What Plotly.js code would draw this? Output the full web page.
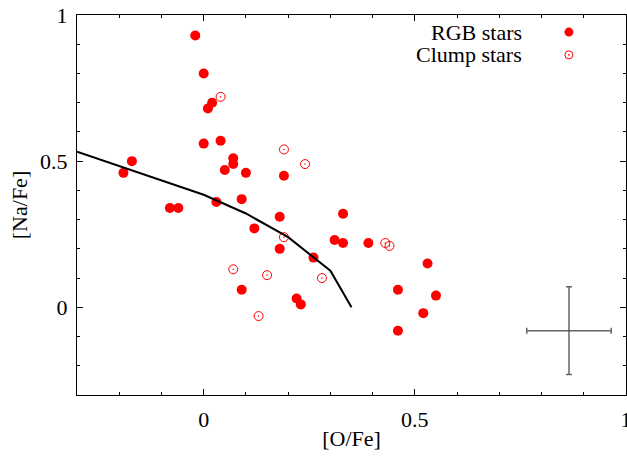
<!DOCTYPE html>
<html>
<head>
<meta charset="utf-8">
<script src="https://cdn.plot.ly/plotly-3.0.1.min.js"></script>
<style>html,body{margin:0;padding:0;background:#fff;}#chart{width:627px;height:467px;}</style>
</head>
<body>
<div id="chart"></div>
<script>
// RGB stars
const rgbOFe = [-0.02, 0.00, 0.02, 0.01, 0.00, 0.04, 0.07, 0.07, 0.05, 0.10, 0.19, -0.19, -0.17, -0.08, -0.06, 0.03, 0.09, 0.18, 0.12, 0.18, 0.33, 0.31, 0.33, 0.39, 0.26, 0.09, 0.22, 0.23, 0.53, 0.46, 0.55, 0.52, 0.46];
const rgbNaFe = [0.93, 0.80, 0.70, 0.68, 0.56, 0.57, 0.51, 0.49, 0.47, 0.46, 0.45, 0.46, 0.50, 0.34, 0.34, 0.36, 0.37, 0.31, 0.27, 0.20, 0.32, 0.23, 0.22, 0.22, 0.17, 0.06, 0.03, 0.01, 0.15, 0.06, 0.04, -0.02, -0.08];
// Clump stars
const clumpOFe = [0.04, 0.19, 0.24, 0.19, 0.43, 0.44, 0.07, 0.15, 0.28, 0.13];
const clumpNaFe = [0.72, 0.54, 0.49, 0.24, 0.22, 0.21, 0.13, 0.11, 0.10, -0.03];
// Model curve
const modelOFe = [-0.30, 0.00, 0.10, 0.20, 0.30, 0.35];
const modelNaFe = [0.532, 0.385, 0.321, 0.24, 0.125, 0.00];
// Typical error
const errOFe = [0.865];
const errNaFe = [-0.08];
const errX = [0.10];
const errY = [0.15];
// Ticks
const xTickVals = [0, 0.5, 1];
const xTickText = ['0', '0.5', '1'];
const yTickVals = [0, 0.5, 1];
const yTickText = ['0', '0.5', '1'];
const legendNames = ['RGB stars', 'Clump stars'];

const FONT = '"Liberation Serif", "Times New Roman", serif';
const RED = '#ff0000';

const traces = [
  {x: rgbOFe, y: rgbNaFe, type: 'scatter', mode: 'markers', name: legendNames[0],
   marker: {symbol: 'circle', size: 10, color: RED, line: {width: 0}}},
  {x: clumpOFe, y: clumpNaFe, type: 'scatter', mode: 'markers', name: legendNames[1],
   marker: {symbol: 'circle-open-dot', size: 9, color: RED, line: {width: 1, color: RED}}},
  {x: modelOFe, y: modelNaFe, type: 'scatter', mode: 'lines', name: 'model',
   line: {color: '#000', width: 2}},
  {x: errOFe, y: errNaFe, type: 'scatter', mode: 'markers', name: 'error',
   marker: {size: 2, color: '#555'},
   error_x: {type: 'data', array: errX, color: '#666', thickness: 1.5, width: 3},
   error_y: {type: 'data', array: errY, color: '#666', thickness: 1.5, width: 3}}
];

const ax = {
  showline: true, linecolor: '#000', linewidth: 1.2, mirror: 'allticks',
  ticks: 'inside', ticklen: 6, tickwidth: 1, tickcolor: '#000',
  showgrid: false, zeroline: false, automargin: false,
  ticklabeloverflow: 'allow',
  tickfont: {family: FONT, size: 22, color: '#000'},
  minor: {dtick: 0.1, ticks: 'inside', ticklen: 3, tickwidth: 1, tickcolor: '#000', showgrid: false}
};

const legendX = 0.814, legendSymX = 0.896;
const legendY = [0.955, 0.895];

const layout = {
  width: 627, height: 467,
  margin: {l: 77, r: 1, t: 15, b: 72},
  paper_bgcolor: '#fff', plot_bgcolor: '#fff',
  showlegend: false,
  font: {family: FONT, size: 22, color: '#000'},
  xaxis: Object.assign({}, ax, {
    range: [-0.3, 1.0], tickmode: 'array', tickvals: xTickVals, ticktext: xTickText,
    ticklabelstandoff: 4,
    title: {text: '[O/Fe]', font: {family: FONT, size: 22, color: '#000'}, standoff: 0}
  }),
  yaxis: Object.assign({}, ax, {
    range: [-0.3, 1.0], tickmode: 'array', tickvals: yTickVals, ticktext: yTickText,
    ticklabelstandoff: 4,
    title: {text: '[Na/Fe]', font: {family: FONT, size: 22, color: '#000'}, standoff: 6}
  }),
  annotations: legendNames.map((t, i) => ({
    text: t, xref: 'paper', yref: 'paper', x: legendX, y: legendY[i],
    xanchor: 'right', yanchor: 'middle', showarrow: false,
    font: {family: FONT, size: 22, color: '#000'}
  })),
  shapes: [
    {type: 'circle', xref: 'paper', yref: 'paper', xsizemode: 'pixel', ysizemode: 'pixel',
     xanchor: legendSymX, yanchor: legendY[0], x0: -4.5, x1: 4.5, y0: -4.5, y1: 4.5,
     fillcolor: RED, line: {width: 0}},
    {type: 'circle', xref: 'paper', yref: 'paper', xsizemode: 'pixel', ysizemode: 'pixel',
     xanchor: legendSymX, yanchor: legendY[1], x0: -4, x1: 4, y0: -4, y1: 4,
     fillcolor: 'rgba(0,0,0,0)', line: {width: 1, color: RED}},
    {type: 'circle', xref: 'paper', yref: 'paper', xsizemode: 'pixel', ysizemode: 'pixel',
     xanchor: legendSymX, yanchor: legendY[1], x0: -0.8, x1: 0.8, y0: -0.8, y1: 0.8,
     fillcolor: RED, line: {width: 0}}
  ]
};

Plotly.newPlot('chart', traces, layout, {staticPlot: true, displayModeBar: false});
</script>
</body>
</html>
